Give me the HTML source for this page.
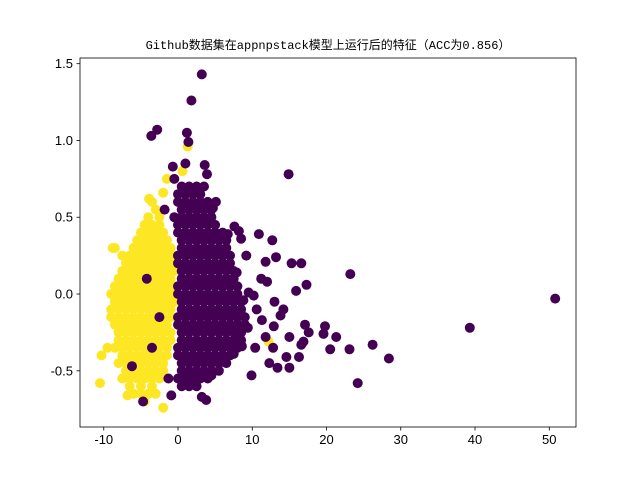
<!DOCTYPE html>
<html><head><meta charset="utf-8">
<style>
html,body{margin:0;padding:0;background:#fff;}
svg{display:block;font-family:"Liberation Sans","DejaVu Sans",sans-serif;}
</style></head>
<body>
<svg id="chart" width="640" height="480" viewBox="0 0 640 480" xmlns="http://www.w3.org/2000/svg">
<rect x="0" y="0" width="640" height="480" fill="#fff"/>
<text x="328" y="49" text-anchor="middle" font-size="12" font-family="'Liberation Mono','Noto Sans CJK SC',monospace">Github数据集在appnpstack模型上运行后的特征（ACC为0.856）</text>
<g id="marks"></g>
<g id="axes"></g>
</svg>
<script>
// x tick labels and y tick labels
const xTicks = [-10, 0, 10, 20, 30, 40, 50];
const yTicks = [-0.5, 0.0, 0.5, 1.0, 1.5];
// class 1 (yellow) points: flat x,y pairs
const yellowPts = [
-3.5,0.6, -4,0.5, -2.5,0.5, -5,0.4, -4,0.4, -3,0.4, -2,0.4,
-8.5,0.3, -6,0.3, -5,0.3, -4,0.3, -3,0.3, -2,0.3, -1,0.3,
-7,0.2, -6,0.2, -5,0.2, -4,0.2, -3,0.2, -2,0.2, -1,0.2,
-8,0.1, -7,0.1, -6,0.1, -5,0.1, -4,0.1, -3,0.1, -2,0.1, -1,0.1,
-9,0.0, -8,0.0, -7,0.0, -6,0.0, -5,0.0, -4,0.0, -3,0.0, -2,0.0, -1,0.0,
-9,-0.1, -8,-0.1, -7,-0.1, -6,-0.1, -5,-0.1, -4,-0.1, -3,-0.1, -2,-0.1, -1,-0.1,
-8.5,-0.2, -7.5,-0.2, -6.5,-0.2, -5.5,-0.2, -4.5,-0.2, -3.5,-0.2, -2.5,-0.2, -1.5,-0.2,
-8,-0.3, -7,-0.3, -6,-0.3, -5,-0.3, -4,-0.3, -3,-0.3, -2,-0.3, -1,-0.3,
-10.3,-0.4, -7.5,-0.4, -6.5,-0.4, -5.5,-0.4, -4.5,-0.4, -3.5,-0.4, -2.5,-0.4, -1.5,-0.4,
-7,-0.5, -6,-0.5, -5,-0.5, -4,-0.5, -3,-0.5, -2,-0.5,
-10.5,-0.58, -6.5,-0.6, -5,-0.6, -3.5,-0.6, -4.5,-0.7, -2,-0.74, -6.8,-0.66,
-3,0.55, -4.5,0.45, -3.5,0.45, -2.5,0.45,
-5.5,0.35, -4.5,0.35, -3.5,0.35, -2.5,0.35, -1.5,0.35,
-7.5,0.25, -6.5,0.25, -5.5,0.25, -4.5,0.25, -3.5,0.25, -2.5,0.25, -1.5,0.25, -0.5,0.25,
-7.5,0.15, -6.5,0.15, -5.5,0.15, -4.5,0.15, -3.5,0.15, -2.5,0.15, -1.5,0.15, -0.5,0.15,
-8.5,0.05, -7.5,0.05, -6.5,0.05, -5.5,0.05, -4.5,0.05, -3.5,0.05, -2.5,0.05, -1.5,0.05, -0.5,0.05,
-8.5,-0.05, -7.5,-0.05, -6.5,-0.05, -5.5,-0.05, -4.5,-0.05, -3.5,-0.05, -2.5,-0.05, -1.5,-0.05, -0.5,-0.05,
-9,-0.15, -8,-0.15, -7,-0.15, -6,-0.15, -5,-0.15, -4,-0.15, -3,-0.15, -2,-0.15, -1,-0.15,
-8,-0.25, -7,-0.25, -6,-0.25, -5,-0.25, -4,-0.25, -3,-0.25, -2,-0.25, -1,-0.25,
-8.5,-0.35, -7.5,-0.35, -6.5,-0.35, -5.5,-0.35, -4.5,-0.35, -3.5,-0.35, -2.5,-0.35, -1.5,-0.35,
-8,-0.45, -7,-0.45, -6,-0.45, -5,-0.45, -4,-0.45, -3,-0.45, -2,-0.45,
-7.5,-0.55, -6.5,-0.55, -5.5,-0.55, -4.5,-0.55, -3.5,-0.55, -2.5,-0.55,
-6,-0.65, -5,-0.65, -4,-0.65, -3,-0.65,
-3.9,0.62, -2,0.66, -8.8,0.3, -1.5,0.75,
1.3,0.96, 0.6,0.8, 12.2,-0.31, -9.5,-0.35
];
// class 0 (purple) points: flat x,y pairs
const purplePts = [
0.5,0.7, 1.5,0.7, 2.5,0.7, 3.5,0.7,
0,0.6, 1,0.6, 2,0.6, 3,0.6, 4,0.6,
-0.5,0.5, 0.5,0.5, 1.5,0.5, 2.5,0.5, 3.5,0.5, 4.5,0.5,
0,0.4, 1,0.4, 2,0.4, 3,0.4, 4,0.4, 5,0.4, 6,0.4,
0.5,0.3, 1.5,0.3, 2.5,0.3, 3.5,0.3, 4.5,0.3, 5.5,0.3, 6.5,0.3,
0,0.2, 1,0.2, 2,0.2, 3,0.2, 4,0.2, 5,0.2, 6,0.2, 7,0.2,
0.5,0.1, 1.5,0.1, 2.5,0.1, 3.5,0.1, 4.5,0.1, 5.5,0.1, 6.5,0.1, 7.5,0.1,
0,0.0, 1,0.0, 2,0.0, 3,0.0, 4,0.0, 5,0.0, 6,0.0, 7,0.0, 8,0.0,
0.5,-0.1, 1.5,-0.1, 2.5,-0.1, 3.5,-0.1, 4.5,-0.1, 5.5,-0.1, 6.5,-0.1, 7.5,-0.1, 8.5,-0.1,
0,-0.2, 1,-0.2, 2,-0.2, 3,-0.2, 4,-0.2, 5,-0.2, 6,-0.2, 7,-0.2, 8,-0.2, 9,-0.2,
0.5,-0.3, 1.5,-0.3, 2.5,-0.3, 3.5,-0.3, 4.5,-0.3, 5.5,-0.3, 6.5,-0.3, 7.5,-0.3, 8.5,-0.3,
0,-0.4, 1,-0.4, 2,-0.4, 3,-0.4, 4,-0.4, 5,-0.4, 6,-0.4, 7,-0.4,
0.5,-0.5, 1.5,-0.5, 2.5,-0.5, 3.5,-0.5, 4.5,-0.5, 5.5,-0.5,
0.5,-0.6, 1.5,-0.6, 2.5,-0.6,
0,0.65, 1,0.65, 2,0.65, 3,0.65,
0.5,0.55, 1.5,0.55, 2.5,0.55, 3.5,0.55, 4.5,0.55,
0,0.45, 1,0.45, 2,0.45, 3,0.45, 4,0.45, 5,0.45,
0.5,0.35, 1.5,0.35, 2.5,0.35, 3.5,0.35, 4.5,0.35, 5.5,0.35, 6.5,0.35,
0,0.25, 1,0.25, 2,0.25, 3,0.25, 4,0.25, 5,0.25, 6,0.25, 7,0.25,
0.5,0.15, 1.5,0.15, 2.5,0.15, 3.5,0.15, 4.5,0.15, 5.5,0.15, 6.5,0.15, 7.5,0.15,
0,0.05, 1,0.05, 2,0.05, 3,0.05, 4,0.05, 5,0.05, 6,0.05, 7,0.05, 8,0.05,
0.5,-0.05, 1.5,-0.05, 2.5,-0.05, 3.5,-0.05, 4.5,-0.05, 5.5,-0.05, 6.5,-0.05, 7.5,-0.05, 8.5,-0.05,
0,-0.15, 1,-0.15, 2,-0.15, 3,-0.15, 4,-0.15, 5,-0.15, 6,-0.15, 7,-0.15, 8,-0.15, 9,-0.15,
0.5,-0.25, 1.5,-0.25, 2.5,-0.25, 3.5,-0.25, 4.5,-0.25, 5.5,-0.25, 6.5,-0.25, 7.5,-0.25, 8.5,-0.25,
0,-0.35, 1,-0.35, 2,-0.35, 3,-0.35, 4,-0.35, 5,-0.35, 6,-0.35, 7,-0.35, 8,-0.35,
0.5,-0.45, 1.5,-0.45, 2.5,-0.45, 3.5,-0.45, 4.5,-0.45, 5.5,-0.45, 6.5,-0.45,
0,-0.55, 1,-0.55, 2,-0.55, 3,-0.55, 4,-0.55,
50.8,-0.03, 39.3,-0.22, 28.4,-0.42, 26.2,-0.33, 24.2,-0.58, 23.2,0.13, 23.1,-0.36,
21.3,-0.28, 20.5,-0.36, 19.6,-0.26, 19.8,-0.21, 17.6,-0.25, 17.1,-0.2, 16.9,-0.31,
16.6,-0.33, 16.3,-0.41, 17.3,0.06, 16.6,0.2, 15.3,0.2, 15.9,0.02, 14.9,0.78,
15,-0.48, 14.6,-0.41, 15,-0.28, 14.2,-0.1, 13.8,-0.14, 13,-0.05, 12.9,-0.21,
12.8,-0.35, 13.4,-0.48, 12.3,-0.45, 13.2,0.24, 12.7,0.35, 11.8,0.21, 10.9,0.39,
12,0.08, 11.2,0.1, 10.2,-0.01, 10.6,-0.1, 11.3,-0.17, 11.8,-0.28, 10.4,-0.35,
9.9,-0.53, 9.5,0.01, 9.2,0.25, 8.5,0.36, 8.2,0.41, 7.9,0.14, 8.8,-0.04, 9.4,-0.22,
8.6,-0.34, 8.2,-0.3, 7.5,-0.39, 3.2,1.43, 1.8,1.26, 1.2,1.05, 1.4,0.99, -2.8,1.07,
-3.6,1.03, -0.7,0.83, 3.6,0.84, 3.9,0.78, 5.1,0.6, 4.7,0.56, 7.6,0.44, 6.7,0.39,
-1.3,-0.55, -0.9,-0.66, 3.2,-0.67, 3.8,-0.69, 2.3,-0.57, 4.5,-0.53, -4.7,-0.7, -6.2,-0.47,
-2.5,-0.15, -3.5,-0.35, -4.2,0.1, -1.8,0.55, -0.5,0.75, 1,0.85
];

const PL = 80, PR = 576, PT = 58, PB = 427;
const XMIN = -13.2, XMAX = 53.6, YMIN = -0.866, YMAX = 1.537;
function xs(v){ return PL + (v - XMIN) / (XMAX - XMIN) * (PR - PL); }
function ys(v){ return PB - (v - YMIN) / (YMAX - YMIN) * (PB - PT); }
const NS = 'http://www.w3.org/2000/svg';
const marks = document.getElementById('marks');
const axes = document.getElementById('axes');

function drawPts(arr, color, name){
  for (let i = 0; i < arr.length; i += 2){
    const c = document.createElementNS(NS, 'circle');
    c.setAttribute('cx', xs(arr[i]).toFixed(1));
    c.setAttribute('cy', ys(arr[i+1]).toFixed(1));
    c.setAttribute('r', 5);
    c.setAttribute('fill', color);
    
    
    marks.appendChild(c);
  }
}
drawPts(yellowPts, '#fde725', 'point-class-1');
drawPts(purplePts, '#440154', 'point-class-0');

const frame = document.createElementNS(NS, 'rect');
frame.setAttribute('x', PL); frame.setAttribute('y', PT);
frame.setAttribute('width', PR - PL); frame.setAttribute('height', PB - PT);
frame.setAttribute('fill', 'none'); frame.setAttribute('stroke', '#000'); frame.setAttribute('stroke-width', '0.8');


axes.appendChild(frame);

xTicks.forEach(t => {
  const x = xs(t);
  const l = document.createElementNS(NS, 'line');
  l.setAttribute('x1', x); l.setAttribute('x2', x); l.setAttribute('y1', PB); l.setAttribute('y2', PB + 3.5);
  l.setAttribute('stroke', '#000'); l.setAttribute('stroke-width', '0.8');
  
  
  axes.appendChild(l);
  const tx = document.createElementNS(NS, 'text');
  tx.setAttribute('x', x); tx.setAttribute('y', PB + 17);
  tx.setAttribute('text-anchor', 'middle'); tx.setAttribute('font-size', '13');
  tx.textContent = String(t);
  
  
  axes.appendChild(tx);
});
yTicks.forEach(t => {
  const y = ys(t);
  const l = document.createElementNS(NS, 'line');
  l.setAttribute('x1', PL - 3.5); l.setAttribute('x2', PL); l.setAttribute('y1', y); l.setAttribute('y2', y);
  l.setAttribute('stroke', '#000'); l.setAttribute('stroke-width', '0.8');
  
  
  axes.appendChild(l);
  const tx = document.createElementNS(NS, 'text');
  tx.setAttribute('x', PL - 7); tx.setAttribute('y', y + 4.5);
  tx.setAttribute('text-anchor', 'end'); tx.setAttribute('font-size', '13');
  tx.textContent = t < 0 ? '-' + Math.abs(t).toFixed(1) : t.toFixed(1);
  
  
  axes.appendChild(tx);
});
</script>
</body></html>
